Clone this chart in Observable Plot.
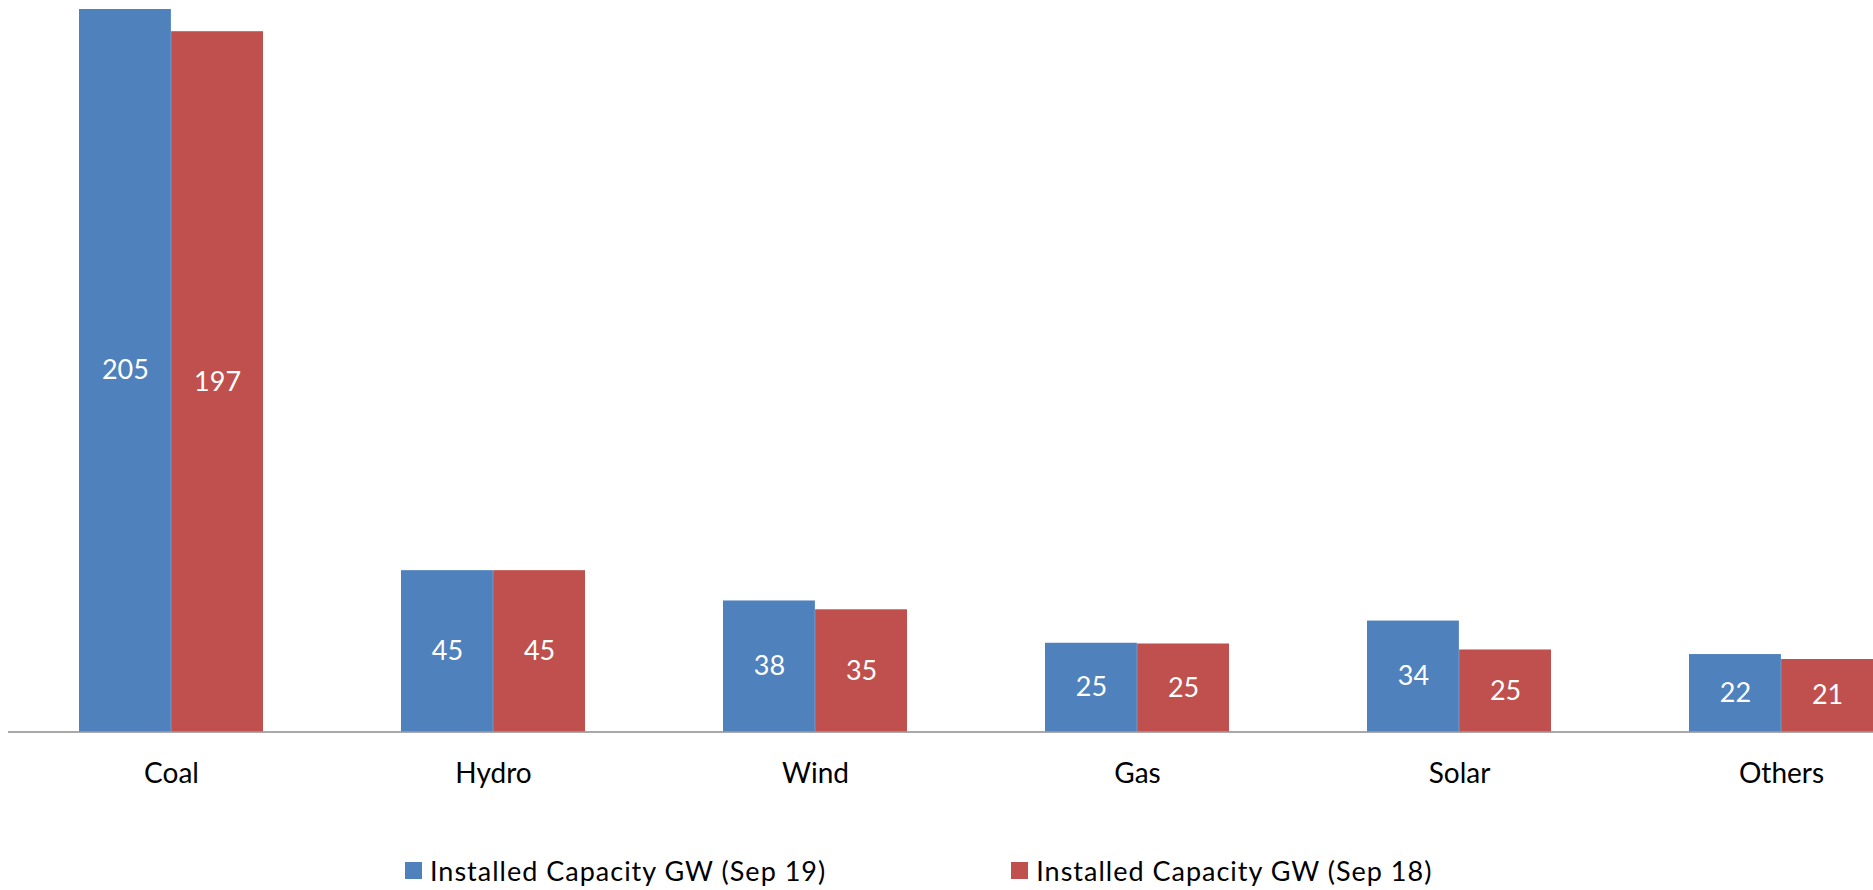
<!DOCTYPE html>
<html>
<head>
<meta charset="utf-8">
<script src="https://cdn.jsdelivr.net/npm/d3@7"></script>
<script src="https://cdn.jsdelivr.net/npm/@observablehq/plot@0.6"></script>
<style>
  html, body { margin: 0; padding: 0; background: #fff; overflow: hidden; }
  #legend { display: flex; align-items: center; padding-left: 405px; font-family: Lato, "Open Sans", sans-serif; font-size: 27px; letter-spacing: 1px; color: #000; height: 40px; }
  .item { display: flex; align-items: center; white-space: nowrap; }
  .sw { width: 17px; height: 17px; margin-right: 8px; }
</style>
</head>
<body>
<div id="chart"></div>
<div id="legend"></div>
<script>
const categories = ["Coal", "Hydro", "Wind", "Gas", "Solar", "Others"];
// bar heights (GW)
const sep19 = [205, 45.8, 37.2, 25.2, 31.5, 22.0];
const sep18 = [198.7, 45.8, 34.7, 25.0, 23.3, 20.6];
// data labels as printed on the bars
const sep19Labels = ["205", "45", "38", "25", "34", "22"];
const sep18Labels = ["197", "45", "35", "25", "25", "21"];
const seriesNames = ["Installed Capacity GW (Sep 19)", "Installed Capacity GW (Sep 18)"];
const colors = ["#4F81BD", "#C0504D"];

const data = categories.map((c, i) => ({cat: c, v19: sep19[i], v18: sep18[i], l19: sep19Labels[i], l18: sep18Labels[i]}));

const xRange = [8.8, 1943.2];
const padIn = 0.4286;
const step = (xRange[1] - xRange[0]) / categories.length;
const half = step * (1 - padIn) / 2;

const chart = Plot.plot({
  width: 1873,
  height: 850,
  marginLeft: 8,
  marginRight: 0,
  marginTop: 9,
  marginBottom: 118.4,
  style: {fontFamily: "Lato, 'Open Sans', sans-serif", fontSize: "27px", color: "#000", background: "#fff", overflow: "hidden"},
  x: {domain: categories, range: xRange, paddingInner: padIn, paddingOuter: padIn / 2},
  y: {domain: [0, 205], axis: null},
  marks: [
    Plot.barY(data, {x: "cat", y: "v19", fill: colors[0], insetRight: half}),
    Plot.barY(data, {x: "cat", y: "v18", fill: colors[1], insetLeft: half}),
    Plot.ruleY([0], {stroke: "#8c8c8c", strokeWidth: 1.5}),
    Plot.text(data, {x: "cat", y: d => d.v19 / 2, text: "l19", dx: -half / 2, fill: "#fff", fontSize: 27}),
    Plot.text(data, {x: "cat", y: d => d.v18 / 2, text: "l18", dx: half / 2, fill: "#fff", fontSize: 27}),
    Plot.axisX({tickSize: 0, tickPadding: 31, fontSize: 28, fill: "#000", label: null})
  ]
});
document.getElementById("chart").appendChild(chart);

const legend = document.getElementById("legend");
seriesNames.forEach((name, i) => {
  const item = document.createElement("div");
  item.className = "item";
  if (i > 0) item.style.marginLeft = "185px";
  const sw = document.createElement("span");
  sw.className = "sw";
  sw.style.background = colors[i];
  const t = document.createElement("span");
  t.textContent = name;
  item.appendChild(sw);
  item.appendChild(t);
  legend.appendChild(item);
});
</script>
</body>
</html>
